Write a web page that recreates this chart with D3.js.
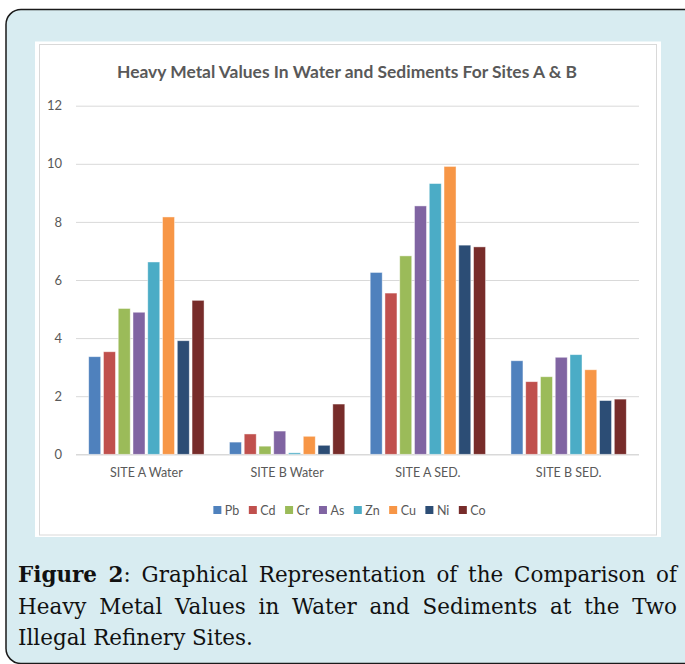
<!DOCTYPE html>
<html>
<head>
<meta charset="utf-8">
<script src="https://cdn.jsdelivr.net/npm/d3@7"></script>
<style>
  html, body { margin: 0; padding: 0; background: #ffffff; }
  svg { display: block; }
</style>
</head>
<body>
<svg id="chart" width="685" height="664"></svg>
<script>
// ---- Data ----
const sites = ["SITE A Water", "SITE B Water", "SITE A SED.", "SITE B SED."];
const metals = ["Pb", "Cd", "Cr", "As", "Zn", "Cu", "Ni", "Co"];
const Pb = [3.36, 0.42, 6.26, 3.22];
const Cd = [3.53, 0.70, 5.55, 2.50];
const Cr = [5.02, 0.28, 6.83, 2.67];
const As = [4.89, 0.80, 8.55, 3.34];
const Zn = [6.62, 0.05, 9.32, 3.43];
const Cu = [8.17, 0.62, 9.91, 2.91];
const Ni = [3.91, 0.31, 7.20, 1.85];
const Co = [5.30, 1.73, 7.14, 1.90];
const yTicks = [0, 2, 4, 6, 8, 10, 12];
const colors = ["#4F81BD", "#C0504D", "#9BBB59", "#8064A2", "#4BACC6", "#F79646", "#2C4D75", "#772C2A"];
const chartTitle = "Heavy Metal Values In Water and Sediments For Sites A & B";
const captionBold = "Figure 2";
const captionLines = [
  ": Graphical Representation of the Comparison of",
  "Heavy Metal Values in Water and Sediments at the Two",
  "Illegal Refinery Sites."
];

const seriesValues = { Pb, Cd, Cr, As, Zn, Cu, Ni, Co };
const table = sites.map((s, i) => ({ site: s, values: metals.map(m => ({ metal: m, value: seriesValues[m][i] })) }));

const svg = d3.select("#chart");

// ---- Frame ----
svg.append("rect").attr("x", 6).attr("y", 9.5).attr("width", 700).attr("height", 654)
  .attr("rx", 15).attr("fill", "#d8ecf1").attr("stroke", "#1a1a1a").attr("stroke-width", 1.5);
svg.append("rect").attr("x", 35).attr("y", 41.5).attr("width", 626).attr("height", 495.5).attr("fill", "#ffffff");
svg.append("rect").attr("x", 39.5).attr("y", 44.5).attr("width", 617).attr("height", 490.5)
  .attr("fill", "none").attr("stroke", "#d9d9d9").attr("stroke-width", 1);

// ---- Scales ----
const x0 = d3.scaleBand().domain(sites).range([76, 639]).paddingInner(0).paddingOuter(0);
const x1 = d3.scaleBand().domain(metals).range([0, x0.bandwidth()]).paddingInner(0.187).paddingOuter(0.86);
const y = d3.scaleLinear().domain([0, 12]).range([454.3, 105.7]);
const color = d3.scaleOrdinal().domain(metals).range(colors);

// ---- Gridlines & y axis ----
const yAxis = d3.axisLeft(y).tickValues(yTicks).tickSize(-(639 - 76)).tickPadding(14);
const gy = svg.append("g").attr("transform", "translate(76,0)").call(yAxis);
gy.select(".domain").remove();
gy.selectAll(".tick line").attr("stroke", "#d9d9d9").attr("stroke-width", d => d === 0 ? 1.6 : 1);
gy.selectAll(".tick text").attr("fill", "#595959").attr("font-family", "Lato, 'Open Sans', sans-serif")
  .attr("font-size", 13);

// ---- Bars ----
const groups = svg.append("g").selectAll("g").data(table).join("g")
  .attr("transform", d => `translate(${x0(d.site)},0)`);
groups.selectAll("rect").data(d => d.values).join("rect")
  .attr("x", d => x1(d.metal))
  .attr("y", d => y(d.value))
  .attr("width", x1.bandwidth())
  .attr("height", d => y(0) - y(d.value))
  .attr("fill", d => color(d.metal))
  .attr("stroke", "#ffffff").attr("stroke-opacity", 0.55).attr("stroke-width", 0.8);

// ---- X axis labels ----
const xAxis = d3.axisBottom(x0).tickSize(0).tickPadding(14);
const gx = svg.append("g").attr("transform", `translate(0,${y(0)})`).call(xAxis);
gx.select(".domain").remove();
gx.selectAll(".tick text").attr("fill", "#595959").attr("font-family", "Lato, 'Open Sans', sans-serif")
  .attr("font-size", 12.5);

// ---- Title ----
svg.append("text").attr("x", 347).attr("y", 78).attr("text-anchor", "middle")
  .attr("font-family", "Lato, 'Open Sans', sans-serif").attr("font-weight", "bold")
  .attr("font-size", 17).attr("fill", "#595959")
  .attr("textLength", 460).attr("lengthAdjust", "spacingAndGlyphs")
  .text(chartTitle);

// ---- Legend ----
const legend = svg.append("g");
let lx = 216;
metals.forEach(m => {
  legend.append("rect").attr("x", lx).attr("y", 506).attr("width", 8).attr("height", 8).attr("fill", color(m));
  const t = legend.append("text").attr("x", lx + 11.5).attr("y", 515)
    .attr("font-family", "Lato, 'Open Sans', sans-serif").attr("font-size", 12.5).attr("fill", "#595959").text(m);
  lx += 11.5 + t.node().getComputedTextLength() + 9.5;
});
const lb = legend.node().getBBox();
legend.attr("transform", `translate(${349.5 - (lb.x + lb.width / 2)},0)`);

// ---- Caption ----
const capFont = "'DejaVu Serif', 'Liberation Serif', serif";
const capLeft = 18, capRight = 677;
const baselines = [582, 613.5, 645];
const probe = svg.append("text").attr("font-family", capFont).attr("font-size", 20).text(captionLines[2]);
const probeW = probe.node().getComputedTextLength();
probe.remove();
const capSize = Math.min(22, 20 * 235 / probeW);
captionLines.forEach((line, i) => {
  const t = svg.append("text").attr("x", capLeft).attr("y", baselines[i])
    .attr("font-family", capFont).attr("font-size", capSize).attr("fill", "#111");
  if (i === 0) {
    t.append("tspan").attr("font-weight", "bold").text(captionBold);
  }
  t.append("tspan").text(line);
  if (i < 2) {
    const natural = t.node().getComputedTextLength();
    const full = (i === 0 ? captionBold : "") + line;
    const spaces = (full.match(/ /g) || []).length;
    const extra = Math.max(0, (capRight - capLeft - natural) / spaces);
    t.attr("word-spacing", extra);
  }
});
</script>
</body>
</html>
